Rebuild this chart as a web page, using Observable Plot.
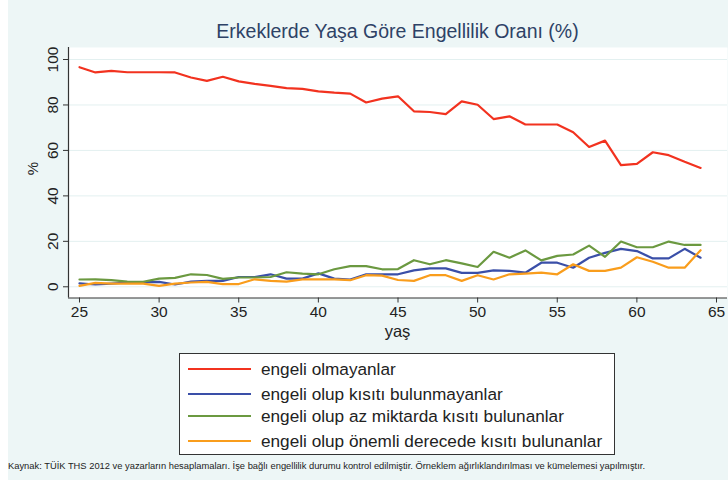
<!DOCTYPE html>
<html>
<head>
<meta charset="utf-8">
<script src="https://cdn.jsdelivr.net/npm/d3@7"></script>
<script src="https://cdn.jsdelivr.net/npm/@observablehq/plot@0.6"></script>
<style>
  html, body { margin: 0; padding: 0; background: #ffffff; }
  #wrap { position: relative; width: 728px; height: 483px; overflow: hidden; font-family: "Liberation Sans", Arial, sans-serif; }
  #bg { position: absolute; left: 8px; top: 0px; width: 720px; height: 480px; background: #edf6f6; }
  #title { position: absolute; left: 68px; width: 659px; top: 20px; text-align: center; font-size: 19.5px; color: #2e4266; }
  #chart { position: absolute; left: 0; top: 0; }
  #ylab { position: absolute; left: 24px; top: 160px; font-size: 15px; color: #222; transform: rotate(-90deg); transform-origin: center; width: 16px; text-align: center; }
  #xlab { position: absolute; left: 68px; width: 659px; top: 322px; text-align: center; font-size: 16.5px; color: #222; }
  #legend { position: absolute; left: 179px; top: 353px; width: 436px; height: 102px; background: #fff; border: 1px solid #333; box-sizing: border-box; }
  .item { position: absolute; left: 8px; height: 20px; display: flex; align-items: center; font-size: 17.2px; color: #222; white-space: nowrap; }
  .sw { width: 63px; height: 2px; margin-right: 10px; }
  #caption { position: absolute; left: 8px; top: 461px; font-size: 8.4px; color: #222; white-space: nowrap; transform-origin: left center; }
</style>
</head>
<body>
<div id="wrap">
  <div id="bg"></div>
  <div id="title">Erkeklerde Yaşa Göre Engellilik Oranı (%)</div>
  <div id="chart"></div>
  <div id="ylab">%</div>
  <div id="xlab">yaş</div>
  <div id="legend"></div>
  <div id="caption">Kaynak: TÜİK THS 2012 ve yazarların hesaplamaları. İşe bağlı engellilik durumu kontrol edilmiştir. Örneklem ağırlıklandırılması ve kümelemesi yapılmıştır.</div>
</div>
<script>
const ages = [25,26,27,28,29,30,31,32,33,34,35,36,37,38,39,40,41,42,43,44,45,46,47,48,49,50,51,52,53,54,55,56,57,58,59,60,61,62,63,64];
const engeliOlmayan = [96.6,94.3,95,94.4,94.4,94.4,94.3,92.1,90.6,92.4,90.4,89.3,88.4,87.4,87.1,86,85.4,85,81.1,82.8,83.8,77.2,76.9,76,81.6,80.1,73.8,75,71.4,71.4,71.4,68,61.5,64.3,53.5,54.1,59.2,57.9,55,52.3];
const kisitiYok = [1.5,1.0,1.4,1.9,2.0,2.2,1.0,2.3,2.6,2.6,4.3,4.3,5.5,3.6,3.6,5.9,3.6,3.2,5.5,5.5,5.5,7.2,8.1,8.1,6.1,6.1,7.2,7.0,6.2,10.6,10.6,8.4,12.8,14.9,16.7,15.7,12.5,12.5,16.7,12.8];
const azKisitli = [3.2,3.3,2.9,2.3,2.2,3.6,3.9,5.5,5.2,3.5,4.1,4.1,4.3,6.4,5.8,5.5,7.7,9.1,9.1,7.7,7.8,11.7,9.9,11.7,10.3,8.7,15.4,12.8,16,11.6,13.6,14.2,18.1,13.2,19.9,17.4,17.4,19.9,18.4,18.4];
const onemliKisitli = [0.4,1.7,1.4,1.4,1.4,0.4,1.4,1.9,2.2,1.2,1.2,3.3,2.6,2.3,3.3,3.3,3.3,2.9,5.1,4.9,3.0,2.6,5.1,5.1,2.6,5.1,3.2,5.5,5.8,6.2,5.5,9.9,7.0,7.0,8.4,13,11,8.4,8.4,16.1];

const seriesNames = ["engeli olmayanlar","engeli olup kısıtı bulunmayanlar","engeli olup az miktarda kısıtı bulunanlar","engeli olup önemli derecede kısıtı bulunanlar"];
const seriesColors = ["#f2321f","#3a4fa8","#6b9940","#f99d1c"];
const seriesValues = [engeliOlmayan, kisitiYok, azKisitli, onemliKisitli];
const xTicks = [25,30,35,40,45,50,55,60,65];
const yTicks = [0,20,40,60,80,100];

const rows = [];
seriesValues.forEach((vals, si) => vals.forEach((v, i) => rows.push({age: ages[i], value: v, series: seriesNames[si]})));

const xDom = [24.31, 65.69];
const yDom = [-4.93, 105.28];

const chart = Plot.plot({
  width: 728,
  height: 340,
  marginLeft: 68,
  marginRight: 1,
  marginTop: 47,
  marginBottom: 42.5,
  style: {background: "transparent", fontFamily: "Liberation Sans, Arial, sans-serif"},
  x: {domain: xDom},
  y: {domain: yDom},
  color: {domain: seriesNames, range: seriesColors},
  marks: [
    Plot.frame({fill: "white", stroke: null}),
    Plot.gridY(yTicks, {stroke: "#e3f0f0", strokeOpacity: 1}),
    Plot.lineY(rows, {x: "age", y: "value", z: "series", stroke: "series", strokeWidth: 2.2}),
    Plot.ruleX([xDom[0]], {stroke: "#333", strokeWidth: 1.2}),
    Plot.ruleY([yDom[0]], {stroke: "#333", strokeWidth: 1.2}),
    Plot.axisX(xTicks, {tickSize: 5, tickPadding: 3, fontSize: 15.5, fill: "#222", stroke: "#333", label: null}),
    Plot.axisY(yTicks, {tickSize: 5, tickPadding: 6, tickRotate: -90, fontSize: 15.5, fill: "#222", stroke: "#333", label: null})
  ]
});
document.getElementById("chart").appendChild(chart);

const legend = document.getElementById("legend");
const tops = [5, 30, 52, 77];
seriesNames.forEach((name, i) => {
  const it = document.createElement("div");
  it.className = "item";
  it.style.top = tops[i] + "px";
  const sw = document.createElement("div");
  sw.className = "sw";
  sw.style.background = seriesColors[i];
  it.appendChild(sw);
  const t = document.createElement("span");
  t.textContent = name;
  it.appendChild(t);
  legend.appendChild(it);
});

const cap = document.getElementById("caption");
const w = cap.getBoundingClientRect().width;
cap.style.transform = `scaleX(${637 / w})`;
</script>
</body>
</html>
